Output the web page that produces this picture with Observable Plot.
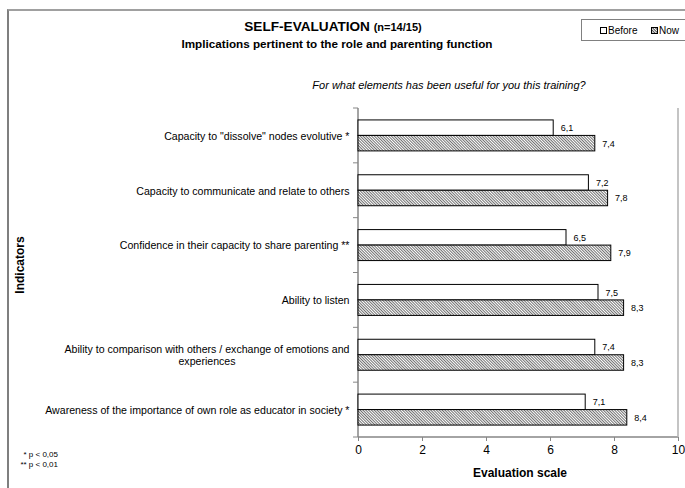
<!DOCTYPE html>
<html>
<head>
<meta charset="utf-8">
<script src="https://cdn.jsdelivr.net/npm/d3@7"></script>
<script src="https://cdn.jsdelivr.net/npm/@observablehq/plot@0.6"></script>
<style>
  html, body { margin: 0; padding: 0; background: #fff; }
  #chart { position: relative; width: 685px; height: 488px; overflow: hidden; font-family: "Liberation Sans", Arial, sans-serif; color: #000; }
  #chart > svg { position: absolute; left: 0; top: 0; }
  .t { position: absolute; white-space: nowrap; transform: translate(-50%, -50%); line-height: 1; }
  .frame { position: absolute; left: 7px; top: 9px; width: 720px; height: 520px; border-top: 2px solid #a0a0a0; border-left: 2px solid #7f7f7f; }
  .legend { position: absolute; left: 581px; top: 19px; width: 120px; height: 20px; border: 1px solid #808080; background: #fff; font-size: 10px; }
  .sw { display: inline-block; width: 5px; height: 5px; border: 1px solid #000; vertical-align: 0px; margin-right: 1px; }
</style>
</head>
<body>
<div id="chart">
  <div class="frame"></div>
</div>
<script>
const categories = [
  "Capacity to \"dissolve\" nodes evolutive *",
  "Capacity to communicate and relate to others",
  "Confidence in their capacity to share parenting **",
  "Ability to listen",
  "Ability to comparison with others / exchange of emotions and experiences",
  "Awareness of the importance of own role as educator in society *"
];
const series = ["Before", "Now"];
const beforeValues = [6.1, 7.2, 6.5, 7.5, 7.4, 7.1];
const nowValues = [7.4, 7.8, 7.9, 8.3, 8.3, 8.4];
const xTicks = [0, 2, 4, 6, 8, 10];
const wrappedLabels = {
  "Ability to comparison with others / exchange of emotions and experiences":
    "Ability to comparison with others / exchange of emotions and\nexperiences"
};

const rows = categories.flatMap((c, i) => [
  {category: c, series: "Before", value: beforeValues[i]},
  {category: c, series: "Now", value: nowValues[i]}
]);
const fmt = v => d3.format(".1f")(v).replace(".", ",");
const axisGray = "#868686";

const plot = Plot.plot({
  width: 685,
  height: 488,
  marginLeft: 358,
  marginRight: 7,
  marginTop: 108,
  marginBottom: 51,
  style: {fontFamily: "'Liberation Sans', Arial, sans-serif", fontSize: "11px", background: "transparent", color: "#000"},
  x: {domain: [0, 10], label: null},
  y: {domain: series, paddingInner: 0, paddingOuter: 0.77, round: false, axis: null, label: null},
  fy: {domain: categories, padding: 0, round: false, label: null},
  marks: [
    Plot.barX(rows.filter(d => d.series === "Before"), {fy: "category", y: "series", x: "value", fill: "white", stroke: "black", strokeWidth: 1}),
    Plot.barX(rows.filter(d => d.series === "Now"), {fy: "category", y: "series", x: "value", fill: "url(#hatch)", stroke: "black", strokeWidth: 1}),
    Plot.text(rows, {fy: "category", y: "series", x: "value", text: d => fmt(d.value), dx: 7, textAnchor: "start", fontSize: 9}),
    Plot.axisX({ticks: xTicks, tickSize: 4, tickPadding: 4, fontSize: 12, stroke: axisGray, label: null, tickFormat: d => String(d)}),
    Plot.axisFy({anchor: "left", tickSize: 0, tickPadding: 9, fontSize: 10.6, lineHeight: 1.15, label: null,
      tickFormat: d => wrappedLabels[d] || d})
  ]
});

const chartEl = document.getElementById("chart");
chartEl.appendChild(plot);
const svg = d3.select(plot);

// hatch pattern
svg.insert("defs", ":first-child").html(
  '<pattern id="hatch" patternUnits="userSpaceOnUse" width="2" height="2" patternTransform="rotate(-45)">' +
  '<rect width="2" height="2" fill="white"/>' +
  '<line x1="0.5" y1="0" x2="0.5" y2="2" stroke="#333" stroke-width="0.7"/></pattern>'
);

// axis lines, plot-area border and category boundary ticks from the scales
const xs = plot.scale("x");
const fys = plot.scale("fy");
const xStart = xs.apply(0), xEnd = xs.apply(10);
const yTop = fys.range[0], yBottom = fys.range[1];
const g = svg.append("g").attr("stroke", axisGray).attr("fill", "none");
g.append("line").attr("x1", xStart).attr("x2", xStart).attr("y1", yTop).attr("y2", yBottom).attr("stroke-width", 1.5);
g.append("line").attr("x1", xStart).attr("x2", xEnd).attr("y1", yBottom).attr("y2", yBottom).attr("stroke-width", 1.5);
g.append("line").attr("x1", xEnd).attr("x2", xEnd).attr("y1", yTop).attr("y2", yBottom).attr("stroke", "#b0b0b0").attr("stroke-width", 1.5);
const bounds = categories.map(c => fys.apply(c)).concat([yBottom]);
bounds.forEach(b => g.append("line").attr("x1", xStart - 5).attr("x2", xStart).attr("y1", b).attr("y2", b));
svg.selectAll("g[aria-label='bar']").raise();
svg.selectAll("g[aria-label='text']").raise();

// center the wrapped category label (Excel-style)
svg.selectAll("text").each(function() {
  const ts = this.querySelectorAll("tspan");
  if (ts.length > 1) {
    let w = 0;
    ts.forEach(t => { w = Math.max(w, t.getComputedTextLength()); });
    this.setAttribute("text-anchor", "middle");
    ts.forEach(t => t.setAttribute("x", -w / 2));
  }
});

// annotations
function addText(html, x, y, style) {
  const d = document.createElement("div");
  d.className = "t";
  d.innerHTML = html;
  d.style.left = x + "px";
  d.style.top = y + "px";
  Object.assign(d.style, style || {});
  chartEl.appendChild(d);
  return d;
}
addText('SELF-EVALUATION <span style="font-size:11px">(n=14/15)</span>', 333, 27, {fontWeight: "bold", fontSize: "13.6px"});
addText("Implications pertinent to the role and parenting function", 337, 43.5, {fontWeight: "bold", fontSize: "11.7px"});
addText("For what elements has been useful for you this training?", 449, 85, {fontStyle: "italic", fontSize: "11px"});
addText("Indicators", 20, 265, {fontWeight: "bold", fontSize: "12px", transform: "translate(-50%,-50%) rotate(-90deg)"});
addText("Evaluation scale", 520, 473, {fontWeight: "bold", fontSize: "12px"});
const fn = document.createElement("div");
fn.style.cssText = "position:absolute;right:" + (685 - 58) + "px;top:450px;font-size:8px;line-height:10px;text-align:right;white-space:nowrap;";
fn.innerHTML = "* p &lt; 0,05<br>** p &lt; 0,01";
chartEl.appendChild(fn);

const lg = document.createElement("div");
lg.className = "legend";
lg.innerHTML =
  '<span style="position:absolute;left:18px;top:5px;"><span class="sw" style="background:#fff"></span>Before</span>' +
  '<span style="position:absolute;left:69px;top:5px;"><svg width="7" height="7" style="vertical-align:0px;margin-right:1px"><defs><pattern id="hatch2" patternUnits="userSpaceOnUse" width="2" height="2" patternTransform="rotate(-45)"><line x1="0.5" y1="0" x2="0.5" y2="2" stroke="#222" stroke-width="0.8"/></pattern></defs><rect x="0.5" y="0.5" width="6" height="6" fill="url(#hatch2)" stroke="#000"/></svg>Now</span>';
chartEl.appendChild(lg);
</script>
</body>
</html>
